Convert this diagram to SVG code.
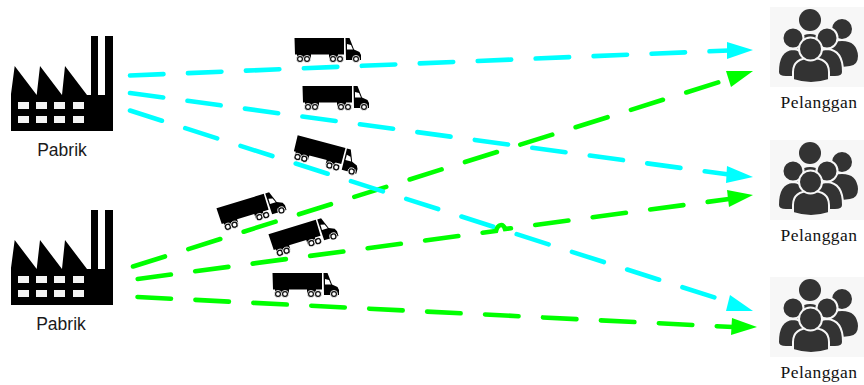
<svg xmlns="http://www.w3.org/2000/svg" width="864" height="385" viewBox="0 0 864 385">
<style>
.lbl{font-family:"Liberation Sans",Arial,sans-serif;font-size:17.5px;fill:#1a1a1a;text-anchor:middle}
.cust{font-family:"Liberation Serif","Times New Roman",serif;font-size:17.5px;letter-spacing:.45px;fill:#111;text-anchor:middle}
.c{fill:none;stroke-width:4.6;stroke-linecap:round;stroke-dasharray:33.500 24.500}
.cy{stroke:#00ffff}.gr{stroke:#00ff00}
.hc{fill:#00ffff}.hg{fill:#00ff00}
.win{fill:#f4f4f4}
.p{fill:#333;stroke:#f7f7f7;stroke-width:2}
</style>
<defs>
<g id="factory">
<path d="M11 131V94L14.700 66L36.700 95L40 66L62 95L65 66L87 95H91V36H98V95H105V36H113V131Z"/>
<g class="win"><rect x="18" y="102" width="11" height="7"/><rect x="36" y="102" width="11" height="7"/><rect x="54" y="102" width="11" height="7"/><rect x="73" y="102" width="11" height="7"/><rect x="18" y="116" width="11" height="7"/><rect x="36" y="116" width="11" height="7"/><rect x="54" y="116" width="11" height="7"/><rect x="73" y="116" width="11" height="7"/></g>
</g>
<g id="people">
<rect x="770" y="7" width="94" height="80" fill="#f7f7f7"/>
<circle cx="810" cy="20" r="11" fill="#333"/>
<path class="p" d="M795 50Q796 33 810 33Q824 33 825 50V60H795Z"/>
<circle class="p" cx="842" cy="29" r="11"/>
<path class="p" d="M826 58Q826 40 842 40Q858 40 859 56Q859 66 850 67L826 70Z"/>
<path class="p" d="M778 72Q778 50 793 49Q808 50 808 72V77H786Q778 77 778 72Z"/>
<circle class="p" cx="793" cy="38" r="10.500"/>
<path class="p" d="M812 72Q812 50 827 49Q843 50 843 72Q843 77 835 77H812Z"/>
<circle class="p" cx="827" cy="38" r="10.500"/>
<path class="p" d="M793 72Q793 58 811 58Q829 58 829 72V80Q811 86 793 80Z"/>
<circle class="p" cx="810.500" cy="49" r="11.500"/>
</g>
<g id="truck">
<path d="M294.500 38H344V54.500H338V59H329V54.500H311V59H297V54.500H295Z"/>
<path d="M345.500 38H349.500L354 49.500L359.500 52L361 55V60H346Z"/>
<path d="M347 44L351 45L353 49.500H347Z" fill="#fff"/>
<g fill="#111" stroke="#fff" stroke-width=".8"><circle cx="300" cy="59" r="3.600"/><circle cx="307" cy="59" r="3.600"/><circle cx="333" cy="59" r="3.600"/><circle cx="340" cy="59" r="3.600"/><circle cx="356" cy="59" r="3.600"/></g>
<g fill="#fff"><circle cx="300" cy="59" r="1.800"/><circle cx="307" cy="59" r="1.800"/><circle cx="333" cy="59" r="1.800"/><circle cx="340" cy="59" r="1.800"/><circle cx="356" cy="59" r="1.800"/></g>
</g>
</defs>
<rect width="864" height="385" fill="#fff"/>
<g id="connectors">
<path class="c cy" d="M130 75.500L729 50.500"/>
<path class="hc" d="M727 42L753 50L727 59Z"/>
<path class="c cy" d="M130 93L729 174.500"/>
<path class="hc" d="M727 166L753 177L726 183Z"/>
<path class="c gr" d="M133 266.500L729 79"/>
<path class="hg" d="M726 71H753L731 87Z"/>
<path class="c cy" d="M130 110.500L735 304"/>
<path class="hc" d="M730 295L753 311H726Z"/>
<path class="c gr" d="M137.700 279L496 231C498 224 503 223 505 229L729 199"/>
<path class="hg" d="M727 190L753 195L729 207Z"/>
<path class="c gr" d="M137.500 297L733 327"/>
<path class="hg" d="M732 318L757 327L731 335Z"/>
</g>
<g id="truck1"><use href="#truck"/></g>
<g id="truck2"><use href="#truck" transform="translate(8 48)"/></g>
<g id="truck3"><use href="#truck" transform="rotate(15 325 155) translate(-1 105)"/></g>
<g id="truck4"><use href="#truck" transform="rotate(-17 252 210) translate(-76 160)"/></g>
<g id="truck5"><use href="#truck" transform="rotate(-17 304 236) translate(-24 186)"/></g>
<g id="truck6"><use href="#truck" transform="translate(-22 235)"/></g>
<g id="factory1"><use href="#factory"/><text class="lbl" x="62" y="156">Pabrik</text></g>
<g id="factory2"><use href="#factory" transform="translate(0 174)"/><text class="lbl" x="61" y="330">Pabrik</text></g>
<g id="customer1"><use href="#people"/><text class="cust" x="819" y="108">Pelanggan</text></g>
<g id="customer2"><use href="#people" transform="translate(0 133)"/><text class="cust" x="819" y="241">Pelanggan</text></g>
<g id="customer3"><use href="#people" transform="translate(0 270)"/><text class="cust" x="819" y="378">Pelanggan</text></g>
</svg>
